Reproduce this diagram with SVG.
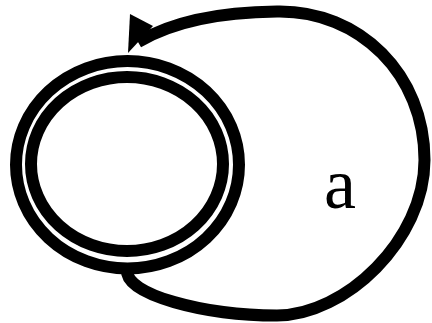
<svg xmlns="http://www.w3.org/2000/svg" width="432" height="323" viewBox="0 0 432 323">
<style>
.ring{fill:none;stroke:#000;stroke-width:12}
.edge{fill:none;stroke:#000;stroke-width:12}
.head{fill:#000;stroke:none}
.lbl{font-family:"Liberation Serif","Times New Roman",serif;font-size:72px;fill:#000}
</style>
<rect width="432" height="323" fill="#fff"/>
<g id="connectors">
<path class="edge" d="M127,270 C125,295 205,315.5 277,315.5 C345,315.5 424.5,240 424.5,160 C424.5,75 360,10 277,11.5 C220,12 172,22 138,42"/>
<polygon class="head" points="130,14 153,26 128,53"/>
<text class="lbl" x="340" y="208" text-anchor="middle">a</text>
</g>
<g id="state">
<ellipse class="ring" cx="127.5" cy="164.7" rx="111.5" ry="103.7"/>
<ellipse class="ring" cx="127" cy="164" rx="96" ry="87"/>
</g>
</svg>
